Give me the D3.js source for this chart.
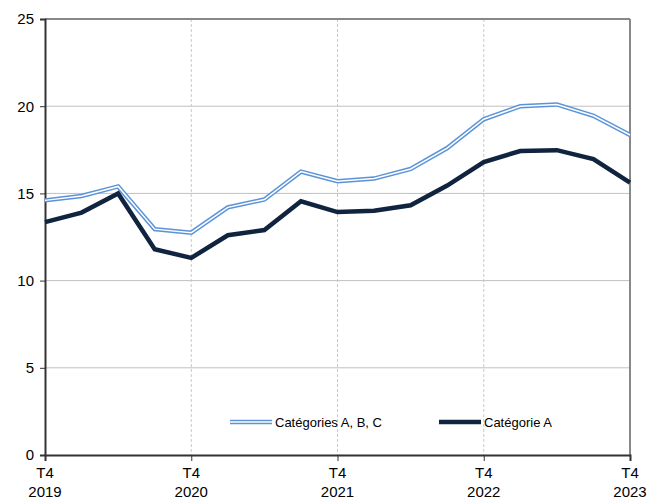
<!DOCTYPE html>
<html>
<head>
<meta charset="utf-8">
<script src="https://cdn.jsdelivr.net/npm/d3@7"></script>
<style>
  body { margin: 0; background: #fff; }
  text { font-family: "Liberation Sans", Arial, sans-serif; fill: #000; }
</style>
</head>
<body>
<div id="chart"></div>
<script>
// quarters T4 2019 .. T4 2023
var quarters = ['T4 2019','T1 2020','T2 2020','T3 2020','T4 2020','T1 2021','T2 2021','T3 2021','T4 2021',
                'T1 2022','T2 2022','T3 2022','T4 2022','T1 2023','T2 2023','T3 2023','T4 2023'];
var catABC = [14.6, 14.85, 15.4, 12.95, 12.75, 14.2, 14.65, 16.25, 15.7, 15.85, 16.4, 17.6, 19.25, 20.0, 20.1, 19.45, 18.35];
var catA   = [13.35, 13.9, 15.0, 11.8, 11.3, 12.6, 12.9, 14.55, 13.93, 14.0, 14.32, 15.45, 16.8, 17.43, 17.48, 16.97, 15.62];
var yTicks = [0, 5, 10, 15, 20, 25];
var xTickIdx = [0, 4, 8, 12, 16];
var seriesNames = ['Catégories A, B, C', 'Catégorie A'];

window.onload = function () {
    var margin = { top: 19, left: 45, bottom: 45, right: 21, width: 651, height: 500 };

    var svg = d3.select('#chart').append('svg').attr('width', margin.width).attr('height', margin.height);

    var x = d3.scaleLinear().domain([0, quarters.length - 1]).range([margin.left, margin.width - margin.right]);
    var y = d3.scaleLinear().domain([0, 25]).range([margin.height - margin.bottom, margin.top]);

    // horizontal grid
    svg.append('g').selectAll('line').data(yTicks.filter(d => d > 0 && d < 25)).enter().append('line')
        .attr('x1', margin.left).attr('x2', x(16)).attr('y1', d => y(d)).attr('y2', d => y(d))
        .attr('stroke', '#c0c0c0').attr('stroke-width', 1);

    // vertical dotted lines
    svg.append('g').selectAll('line').data(xTickIdx.slice(1, -1)).enter().append('line')
        .attr('x1', d => x(d)).attr('x2', d => x(d)).attr('y1', y(25)).attr('y2', y(0))
        .attr('stroke', '#c8c8c8').attr('stroke-width', 1).attr('stroke-dasharray', '3,2');

    // frame top and right
    svg.append('line').attr('x1', margin.left).attr('x2', x(16)).attr('y1', y(25)).attr('y2', y(25))
        .attr('stroke', '#888').attr('stroke-width', 2);
    svg.append('line').attr('x1', x(16)).attr('x2', x(16)).attr('y1', y(25)).attr('y2', y(0))
        .attr('stroke', '#888').attr('stroke-width', 2);

    // axes
    var yAxis = d3.axisLeft(y).tickValues(yTicks).tickSize(5).tickPadding(6);
    var gy = svg.append('g').attr('transform', `translate(${margin.left},0)`).call(yAxis);
    gy.selectAll('text').style('font-size', '15px');

    var xAxis = d3.axisBottom(x).tickValues(xTickIdx).tickSize(6).tickFormat('');
    var gx = svg.append('g').attr('transform', `translate(0,${y(0)})`).call(xAxis);

    [gx, gy].forEach(function (g) {
        g.select('.domain').attr('stroke', '#333').attr('stroke-width', 2);
        g.selectAll('.tick line').attr('stroke', '#333');
    });

    var lbl = svg.append('g').selectAll('text').data(xTickIdx).enter().append('text')
        .attr('x', d => x(d)).attr('text-anchor', 'middle').style('font-size', '15px');
    lbl.append('tspan').attr('x', d => x(d)).attr('y', y(0) + 23).text(d => quarters[d].split(' ')[0]);
    lbl.append('tspan').attr('x', d => x(d)).attr('y', y(0) + 42).text(d => quarters[d].split(' ')[1]);

    var line = d3.line().x((d, i) => x(i)).y(d => y(d));

    // double blue line
    svg.append('path').datum(catABC).attr('d', line).attr('fill', 'none')
        .attr('stroke', '#5b93d9').attr('stroke-width', 4.5).attr('stroke-linejoin', 'miter');
    svg.append('path').datum(catABC).attr('d', line).attr('fill', 'none')
        .attr('stroke', '#fff').attr('stroke-width', 1.5).attr('stroke-linejoin', 'miter');

    svg.append('path').datum(catA).attr('d', line).attr('fill', 'none')
        .attr('stroke', '#10243f').attr('stroke-width', 4.5).attr('stroke-linejoin', 'miter');

    // legend
    var ly = 422;
    var leg = svg.append('g');
    leg.append('line').attr('x1', 230).attr('x2', 272).attr('y1', ly).attr('y2', ly)
        .attr('stroke', '#5b93d9').attr('stroke-width', 4.5);
    leg.append('line').attr('x1', 230).attr('x2', 272).attr('y1', ly).attr('y2', ly)
        .attr('stroke', '#fff').attr('stroke-width', 1.5);
    leg.append('text').attr('x', 275).attr('y', ly + 5).style('font-size', '13px').text(seriesNames[0]);
    leg.append('line').attr('x1', 439).attr('x2', 481).attr('y1', ly).attr('y2', ly)
        .attr('stroke', '#10243f').attr('stroke-width', 4.5);
    leg.append('text').attr('x', 484).attr('y', ly + 5).style('font-size', '13px').text(seriesNames[1]);
};
</script>
</body>
</html>
